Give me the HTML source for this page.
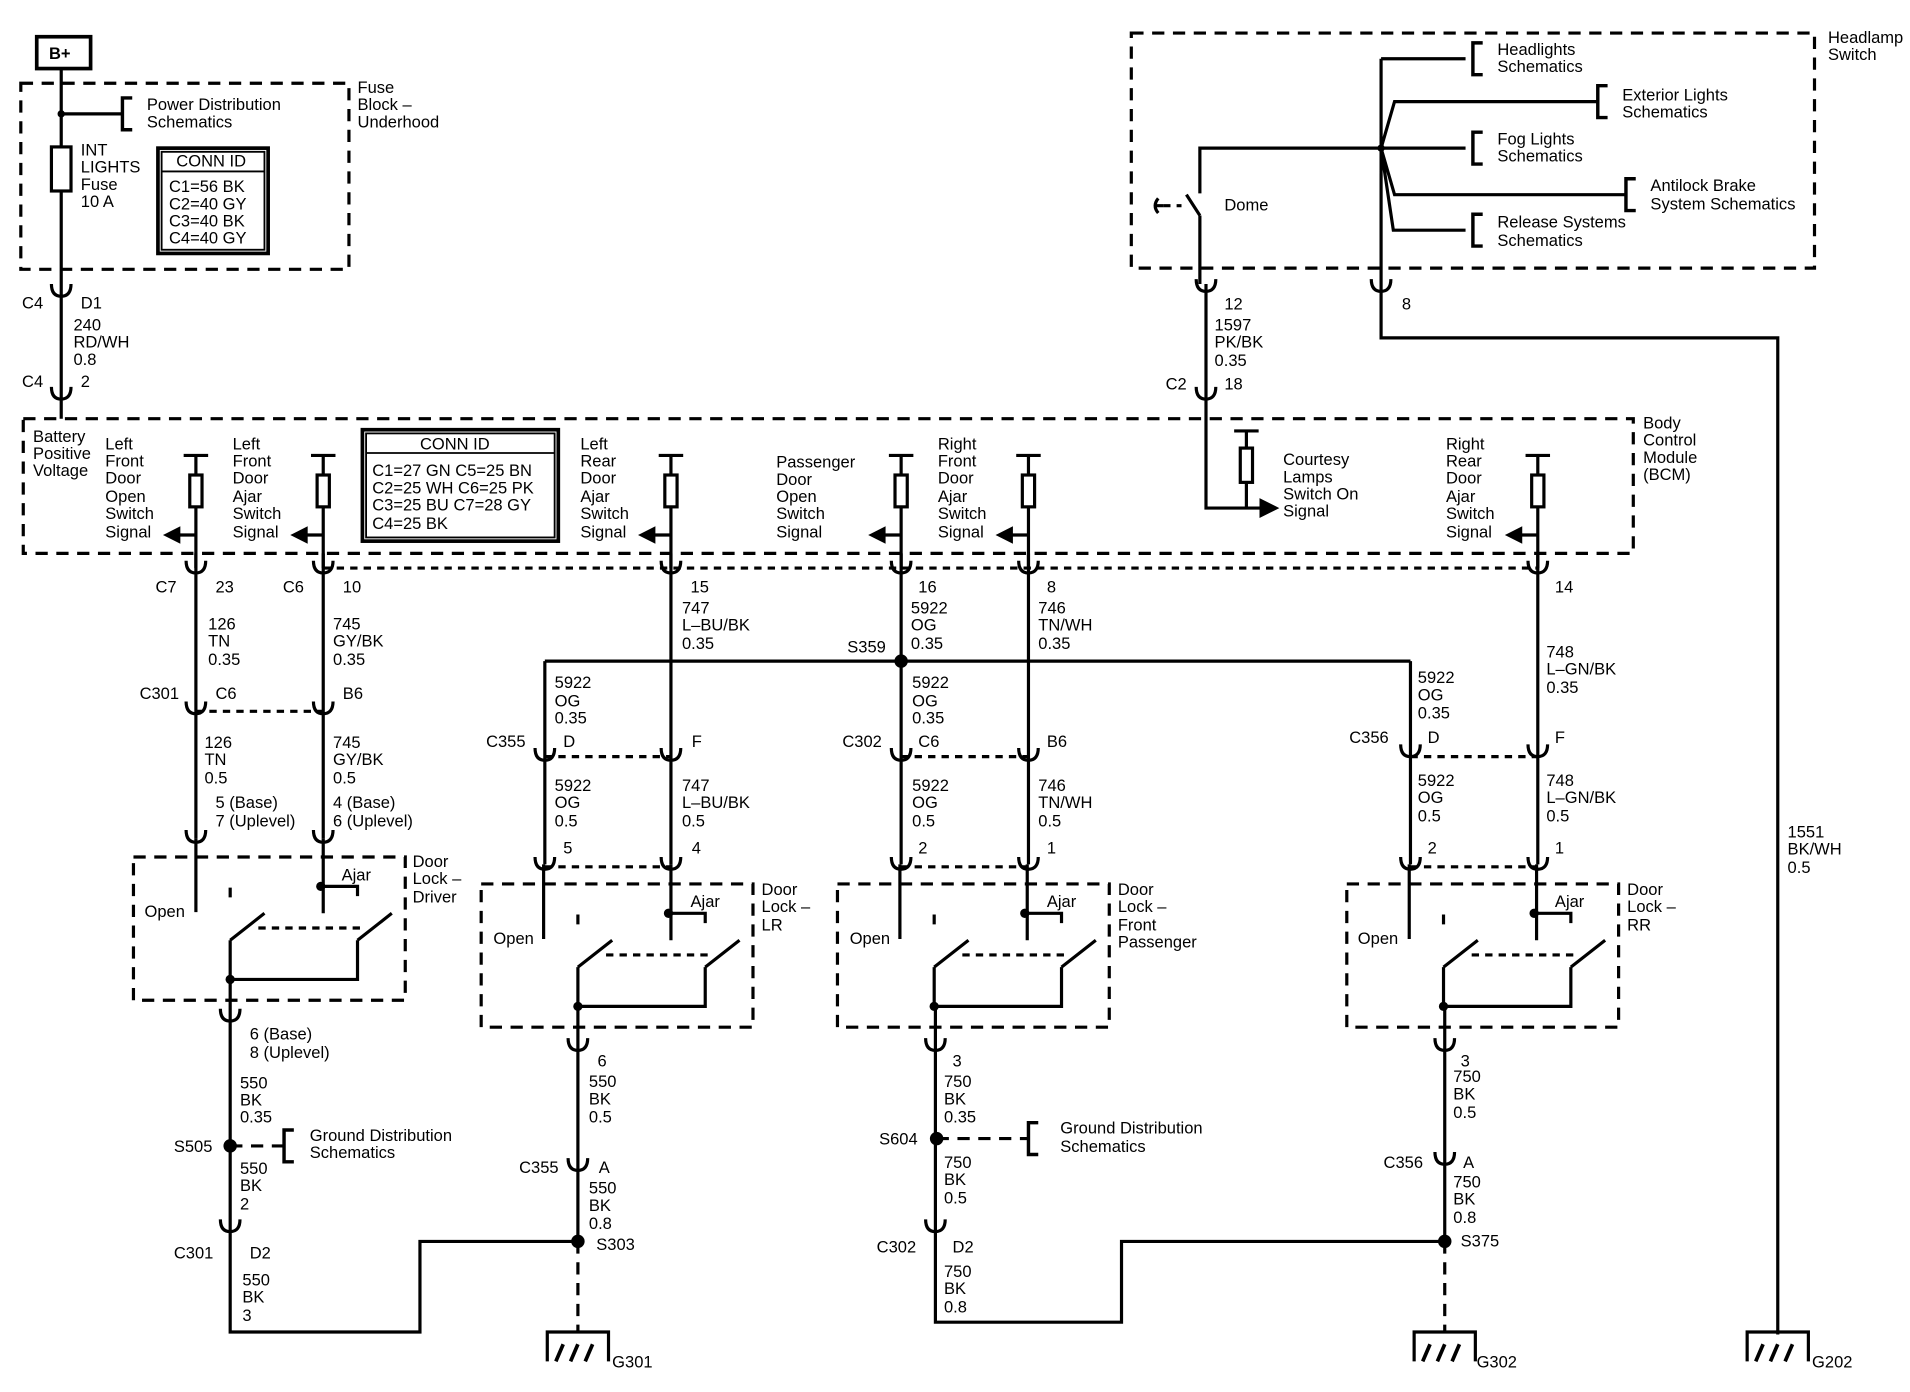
<!DOCTYPE html>
<html><head><meta charset="utf-8"><style>
html,body{margin:0;padding:0;background:#fff;}
svg{display:block;}
text{font-family:"Liberation Sans",Arial,sans-serif;font-size:13.5px;fill:#000;}
</style></head><body>
<svg width="1910" height="1392" viewBox="0 0 1560 1137" preserveAspectRatio="none" xmlns="http://www.w3.org/2000/svg">
<defs>
<g id="cn"><path d="M-8,-4 Q-8,6 0,6 Q8,6 8,-4" fill="none" stroke="#000" stroke-width="2.6"/></g>
<g id="gnd" fill="none" stroke="#000" stroke-width="2.6">
<path d="M-25,24 V0 H25 V24"/><path d="M-18,24 L-12,10 M-6,24 L0,10 M6,24 L12,10" stroke-width="3"/></g>
<g id="br" fill="none" stroke="#000" stroke-width="2.8"><path d="M8,-13 H0 V13 H8"/></g>
<g id="sig" fill="none" stroke="#000" stroke-width="2.6">
<path d="M-10,0 H10 M0,0 V16 M0,42 V92"/><rect x="-5" y="16" width="10" height="26"/>
<path d="M0,65 H-16"/><path d="M-24,65 L-14,60 L-14,70 Z" fill="#000"/></g>
<g id="sw" fill="none" stroke="#000" stroke-width="2.6">
<path d="M188,725 V733 M262,724 H292 V732 M188,768 L216,746 M292,768 L320,746 M188,768 V800 H292 V768"/>
<path d="M211,758 H298" stroke-dasharray="6,5"/>
<circle cx="188" cy="800" r="2.5" fill="#000"/><circle cx="262" cy="724" r="2.5" fill="#000"/></g>
</defs>
<g fill="none" stroke="#000" stroke-width="2.6">
<rect x="30" y="30" width="44" height="26" stroke-width="3"/>
<rect x="17" y="68" width="268" height="152" stroke-dasharray="10,7"/>
<path d="M50,56 V342 M50,93 H100"/>
<rect x="42" y="120" width="16" height="36" fill="#fff"/>
<rect x="129" y="121" width="90" height="86" stroke-width="3"/>
<rect x="132" y="124" width="84" height="80" stroke-width="1.5"/>
<path d="M132,140 H216" stroke-width="1.5"/>
<rect x="19" y="342" width="1315" height="110" stroke-dasharray="10,7"/>
<rect x="296" y="351" width="160" height="91" stroke-width="3"/>
<rect x="299" y="354" width="154" height="85" stroke-width="1.5"/>
<path d="M299,370 H453" stroke-width="1.5"/>
<rect x="924" y="27" width="558" height="192" stroke-dasharray="10,7"/>
<path d="M980,232 V176 M980,158 V121 H1128 M969,159 L980,176"/>
<path d="M950,168 H965" stroke-dasharray="6,5"/>
<path d="M946,162 Q941,168 946,174 M943,168 H950"/>
<path d="M1128,48 V276 H1452 V1090 M1128,48 H1197 M1128,121 H1197 M1128,121 L1139,83 H1305 M1128,121 L1139,159 H1328 M1128,121 L1138,188 H1197"/>
<path d="M985,232 V415 H1030 M1008,352 H1028 M1018,352 V366 M1018,394 V415"/>
<rect x="1013" y="366" width="10" height="28"/>
<path d="M1042,415 L1030,409 L1030,421 Z" fill="#000"/>
<path d="M160,452 V685 M264,452 V685 M548,452 V706 M736,452 V706 M840,452 V706 M1256,452 V706"/>
<path d="M445,540 H1152 M445,540 V706 M1152,540 V706"/>
<path d="M264,464 H1256 M160,581 H264 M445,618 H548 M736,618 H840 M1152,618 H1256 M445,708 H548 M736,708 H840 M1152,708 H1256" stroke-dasharray="6,5"/>
<path d="M160,685 V745 M264,685 V746 M444,706 V767 M548,706 V768 M735,706 V767 M839,706 V768 M1151,706 V767 M1255,706 V768"/>
<rect x="109" y="700" width="222" height="117" stroke-dasharray="10,7"/>
<rect x="393" y="722" width="222" height="117" stroke-dasharray="10,7"/>
<rect x="684" y="722" width="222" height="117" stroke-dasharray="10,7"/>
<rect x="1100" y="722" width="222" height="117" stroke-dasharray="10,7"/>
<path d="M188,800 V1088 H343 V1014 H472 M472,822 V1014 M764,822 V1080 H916 V1014 H1180 M1180,822 V1014"/>
<path d="M188,936 H232 M765,930 H840 M472,1014 V1088 M1180,1014 V1088" stroke-dasharray="10,7"/>
</g>
<g fill="#000">
<circle cx="50" cy="93" r="3"/><circle cx="736" cy="540" r="5.5"/><circle cx="188" cy="936" r="5.5"/><circle cx="472" cy="1014" r="5.5"/><circle cx="765" cy="930" r="5.5"/><circle cx="1180" cy="1014" r="5.5"/><circle cx="1128" cy="121" r="3"/>
</g>
<use href="#br" x="100" y="93"/><use href="#br" x="232" y="936"/><use href="#br" x="840" y="930"/>
<use href="#br" x="1203" y="48"/><use href="#br" x="1305" y="83"/><use href="#br" x="1203" y="121"/><use href="#br" x="1328" y="159"/><use href="#br" x="1203" y="188"/>
<use href="#sig" x="160" y="372"/><use href="#sig" x="264" y="372"/><use href="#sig" x="548" y="372"/><use href="#sig" x="736" y="372"/><use href="#sig" x="840" y="372"/><use href="#sig" x="1256" y="372"/>
<use href="#sw" x="0" y="0"/><use href="#sw" x="284" y="22"/><use href="#sw" x="575" y="22"/><use href="#sw" x="991" y="22"/>
<use href="#cn" x="50" y="236"/><use href="#cn" x="50" y="320"/><use href="#cn" x="985" y="232"/><use href="#cn" x="1128" y="232"/><use href="#cn" x="985" y="320"/>
<use href="#cn" x="160" y="462"/><use href="#cn" x="264" y="462"/><use href="#cn" x="548" y="462"/><use href="#cn" x="736" y="462"/><use href="#cn" x="840" y="462"/><use href="#cn" x="1256" y="462"/>
<use href="#cn" x="160" y="577"/><use href="#cn" x="264" y="577"/><use href="#cn" x="160" y="682"/><use href="#cn" x="264" y="682"/>
<use href="#cn" x="445" y="615"/><use href="#cn" x="548" y="615"/><use href="#cn" x="736" y="615"/><use href="#cn" x="840" y="615"/><use href="#cn" x="1152" y="612"/><use href="#cn" x="1256" y="612"/>
<use href="#cn" x="445" y="704"/><use href="#cn" x="548" y="704"/><use href="#cn" x="736" y="704"/><use href="#cn" x="840" y="704"/><use href="#cn" x="1152" y="704"/><use href="#cn" x="1256" y="704"/>
<use href="#cn" x="188" y="828"/><use href="#cn" x="472" y="852"/><use href="#cn" x="764" y="852"/><use href="#cn" x="1180" y="852"/>
<use href="#cn" x="188" y="1000"/><use href="#cn" x="472" y="950"/><use href="#cn" x="764" y="1000"/><use href="#cn" x="1180" y="945"/>
<use href="#gnd" x="472" y="1088"/><use href="#gnd" x="1180" y="1088"/><use href="#gnd" x="1452" y="1088"/>
<text x="40" y="48" font-weight="bold">B+</text>
<text x="120" y="90">Power Distribution</text><text x="120" y="104">Schematics</text>
<text x="66" y="127">INT</text><text x="66" y="141">LIGHTS</text><text x="66" y="155">Fuse</text><text x="66" y="169">10 A</text>
<text x="144" y="136">CONN ID</text>
<text x="138" y="157">C1=56 BK</text><text x="138" y="171">C2=40 GY</text><text x="138" y="185">C3=40 BK</text><text x="138" y="199">C4=40 GY</text>
<text x="292" y="76">Fuse</text><text x="292" y="90">Block –</text><text x="292" y="104">Underhood</text>
<text x="18" y="252">C4</text><text x="66" y="252">D1</text>
<text x="60" y="270">240</text><text x="60" y="284">RD/WH</text><text x="60" y="298">0.8</text>
<text x="18" y="316">C4</text><text x="66" y="316">2</text>
<text x="27" y="361">Battery</text><text x="27" y="375">Positive</text><text x="27" y="389">Voltage</text>
<text x="86" y="367">Left</text><text x="86" y="381">Front</text><text x="86" y="395">Door</text><text x="86" y="410">Open</text><text x="86" y="424">Switch</text><text x="86" y="439">Signal</text>
<text x="190" y="367">Left</text><text x="190" y="381">Front</text><text x="190" y="395">Door</text><text x="190" y="410">Ajar</text><text x="190" y="424">Switch</text><text x="190" y="439">Signal</text>
<text x="343" y="367">CONN ID</text>
<text x="304" y="389">C1=27 GN  C5=25 BN</text><text x="304" y="403">C2=25 WH  C6=25 PK</text><text x="304" y="417">C3=25 BU  C7=28 GY</text><text x="304" y="432">C4=25 BK</text>
<text x="474" y="367">Left</text><text x="474" y="381">Rear</text><text x="474" y="395">Door</text><text x="474" y="410">Ajar</text><text x="474" y="424">Switch</text><text x="474" y="439">Signal</text>
<text x="634" y="382">Passenger</text><text x="634" y="396">Door</text><text x="634" y="410">Open</text><text x="634" y="424">Switch</text><text x="634" y="439">Signal</text>
<text x="766" y="367">Right</text><text x="766" y="381">Front</text><text x="766" y="395">Door</text><text x="766" y="410">Ajar</text><text x="766" y="424">Switch</text><text x="766" y="439">Signal</text>
<text x="1181" y="367">Right</text><text x="1181" y="381">Rear</text><text x="1181" y="395">Door</text><text x="1181" y="410">Ajar</text><text x="1181" y="424">Switch</text><text x="1181" y="439">Signal</text>
<text x="1342" y="350">Body</text><text x="1342" y="364">Control</text><text x="1342" y="378">Module</text><text x="1342" y="392">(BCM)</text>
<text x="1048" y="380">Courtesy</text><text x="1048" y="394">Lamps</text><text x="1048" y="408">Switch On</text><text x="1048" y="422">Signal</text>
<text x="1493" y="35">Headlamp</text><text x="1493" y="49">Switch</text>
<text x="1000" y="172">Dome</text>
<text x="1223" y="45">Headlights</text><text x="1223" y="59">Schematics</text>
<text x="1325" y="82">Exterior Lights</text><text x="1325" y="96">Schematics</text>
<text x="1223" y="118">Fog Lights</text><text x="1223" y="132">Schematics</text>
<text x="1348" y="156">Antilock Brake</text><text x="1348" y="171">System Schematics</text>
<text x="1223" y="186">Release Systems</text><text x="1223" y="201">Schematics</text>
<text x="1000" y="253">12</text><text x="1145" y="253">8</text>
<text x="992" y="270">1597</text><text x="992" y="284">PK/BK</text><text x="992" y="299">0.35</text>
<text x="952" y="318">C2</text><text x="1000" y="318">18</text>
<text x="127" y="484">C7</text><text x="176" y="484">23</text><text x="231" y="484">C6</text><text x="280" y="484">10</text>
<text x="564" y="484">15</text><text x="750" y="484">16</text><text x="855" y="484">8</text><text x="1270" y="484">14</text>
<text x="170" y="514">126</text><text x="170" y="528">TN</text><text x="170" y="543">0.35</text>
<text x="272" y="514">745</text><text x="272" y="528">GY/BK</text><text x="272" y="543">0.35</text>
<text x="557" y="501">747</text><text x="557" y="515">L–BU/BK</text><text x="557" y="530">0.35</text>
<text x="744" y="501">5922</text><text x="744" y="515">OG</text><text x="744" y="530">0.35</text>
<text x="848" y="501">746</text><text x="848" y="515">TN/WH</text><text x="848" y="530">0.35</text>
<text x="1263" y="537">748</text><text x="1263" y="551">L–GN/BK</text><text x="1263" y="566">0.35</text>
<text x="692" y="533">S359</text>
<text x="453" y="562">5922</text><text x="453" y="577">OG</text><text x="453" y="591">0.35</text>
<text x="745" y="562">5922</text><text x="745" y="577">OG</text><text x="745" y="591">0.35</text>
<text x="1158" y="558">5922</text><text x="1158" y="572">OG</text><text x="1158" y="587">0.35</text>
<text x="114" y="571">C301</text><text x="176" y="571">C6</text><text x="280" y="571">B6</text>
<text x="167" y="611">126</text><text x="167" y="625">TN</text><text x="167" y="640">0.5</text>
<text x="272" y="611">745</text><text x="272" y="625">GY/BK</text><text x="272" y="640">0.5</text>
<text x="176" y="660">5 (Base)</text><text x="176" y="675">7 (Uplevel)</text>
<text x="272" y="660">4 (Base)</text><text x="272" y="675">6 (Uplevel)</text>
<text x="397" y="610">C355</text><text x="460" y="610">D</text><text x="565" y="610">F</text>
<text x="688" y="610">C302</text><text x="750" y="610">C6</text><text x="855" y="610">B6</text>
<text x="1102" y="607">C356</text><text x="1166" y="607">D</text><text x="1270" y="607">F</text>
<text x="453" y="646">5922</text><text x="453" y="660">OG</text><text x="453" y="675">0.5</text>
<text x="557" y="646">747</text><text x="557" y="660">L–BU/BK</text><text x="557" y="675">0.5</text>
<text x="745" y="646">5922</text><text x="745" y="660">OG</text><text x="745" y="675">0.5</text>
<text x="848" y="646">746</text><text x="848" y="660">TN/WH</text><text x="848" y="675">0.5</text>
<text x="1158" y="642">5922</text><text x="1158" y="656">OG</text><text x="1158" y="671">0.5</text>
<text x="1263" y="642">748</text><text x="1263" y="656">L–GN/BK</text><text x="1263" y="671">0.5</text>
<text x="460" y="697">5</text><text x="565" y="697">4</text><text x="750" y="697">2</text><text x="855" y="697">1</text><text x="1166" y="697">2</text><text x="1270" y="697">1</text>
<text x="337" y="708">Door</text><text x="337" y="722">Lock –</text><text x="337" y="737">Driver</text>
<text x="118" y="749">Open</text><text x="279" y="719">Ajar</text>
<text x="622" y="731">Door</text><text x="622" y="745">Lock –</text><text x="622" y="760">LR</text>
<text x="403" y="771">Open</text><text x="564" y="741">Ajar</text>
<text x="913" y="731">Door</text><text x="913" y="745">Lock –</text><text x="913" y="760">Front</text><text x="913" y="774">Passenger</text>
<text x="694" y="771">Open</text><text x="855" y="741">Ajar</text>
<text x="1329" y="731">Door</text><text x="1329" y="745">Lock –</text><text x="1329" y="760">RR</text>
<text x="1109" y="771">Open</text><text x="1270" y="741">Ajar</text>
<text x="204" y="849">6 (Base)</text><text x="204" y="864">8 (Uplevel)</text>
<text x="196" y="889">550</text><text x="196" y="903">BK</text><text x="196" y="917">0.35</text>
<text x="142" y="941">S505</text>
<text x="253" y="932">Ground Distribution</text><text x="253" y="946">Schematics</text>
<text x="196" y="959">550</text><text x="196" y="973">BK</text><text x="196" y="988">2</text>
<text x="142" y="1028">C301</text><text x="204" y="1028">D2</text>
<text x="198" y="1050">550</text><text x="198" y="1064">BK</text><text x="198" y="1079">3</text>
<text x="488" y="871">6</text>
<text x="481" y="888">550</text><text x="481" y="902">BK</text><text x="481" y="917">0.5</text>
<text x="424" y="958">C355</text><text x="489" y="958">A</text>
<text x="481" y="975">550</text><text x="481" y="989">BK</text><text x="481" y="1004">0.8</text>
<text x="487" y="1021">S303</text><text x="500" y="1117">G301</text>
<text x="778" y="871">3</text>
<text x="771" y="888">750</text><text x="771" y="902">BK</text><text x="771" y="917">0.35</text>
<text x="718" y="935">S604</text>
<text x="866" y="926">Ground Distribution</text><text x="866" y="941">Schematics</text>
<text x="771" y="954">750</text><text x="771" y="968">BK</text><text x="771" y="983">0.5</text>
<text x="716" y="1023">C302</text><text x="778" y="1023">D2</text>
<text x="771" y="1043">750</text><text x="771" y="1057">BK</text><text x="771" y="1072">0.8</text>
<text x="1193" y="871">3</text>
<text x="1187" y="884">750</text><text x="1187" y="898">BK</text><text x="1187" y="913">0.5</text>
<text x="1130" y="954">C356</text><text x="1195" y="954">A</text>
<text x="1187" y="970">750</text><text x="1187" y="984">BK</text><text x="1187" y="999">0.8</text>
<text x="1193" y="1018">S375</text><text x="1206" y="1117">G302</text>
<text x="1460" y="684">1551</text><text x="1460" y="698">BK/WH</text><text x="1460" y="713">0.5</text>
<text x="1480" y="1117">G202</text>
</svg>
</body></html>
